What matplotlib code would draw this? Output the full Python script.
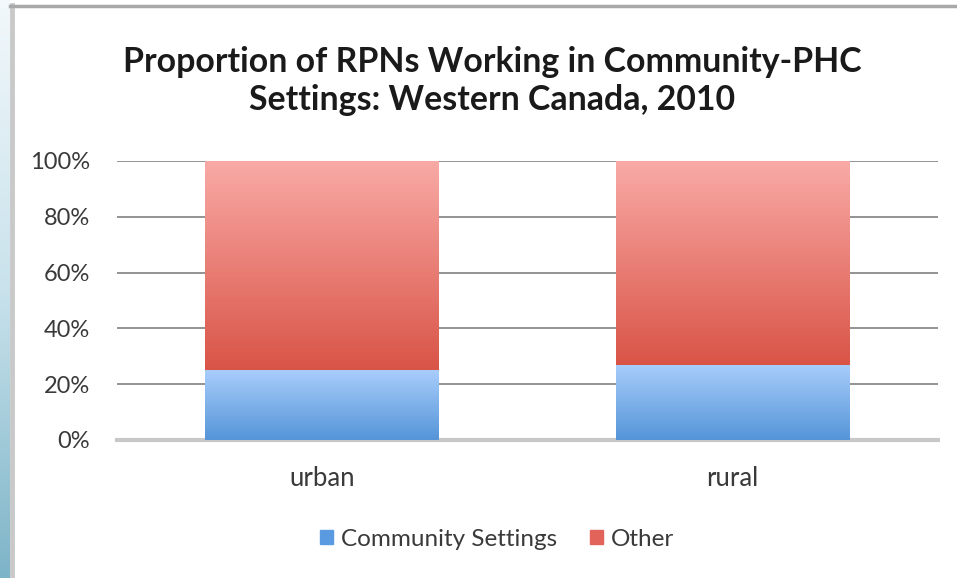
import numpy as np
import matplotlib
matplotlib.use("Agg")
import matplotlib.pyplot as plt
from matplotlib.colors import LinearSegmentedColormap
from matplotlib.patches import Rectangle

plt.rcParams['font.family'] = ['Lato', 'DejaVu Sans']

categories = ["urban", "rural"]
community = [25, 27]
other = [75, 73]
series_names = ["Community Settings", "Other"]
yticks = [0, 20, 40, 60, 80, 100]
ytick_labels = ["0%", "20%", "40%", "60%", "80%", "100%"]
title = "Proportion of RPNs Working in Community-PHC\nSettings: Western Canada, 2010"

W, H = 957, 578
fig = plt.figure(figsize=(W / 100, H / 100), dpi=100)
fig.patch.set_facecolor("white")

# left decorative strip (background slide)
bg = fig.add_axes([0, 0, 10 / W, 1])
grad = np.linspace(0, 1, 256).reshape(-1, 1)
strip_cmap = LinearSegmentedColormap.from_list("strip", ["#f2f8fb", "#c9e2ec", "#7db4c7"])
bg.imshow(grad, aspect="auto", cmap=strip_cmap, extent=[0, 1, 0, 1], origin="upper")
bg.set_axis_off()
# gray frame lines
fig.add_artist(plt.Line2D([11.5 / W, 11.5 / W], [0, 1 - 5 / H], transform=fig.transFigure,
                          color="#c9c9c9", lw=3.5))
fig.add_artist(plt.Line2D([10 / W, 1], [1 - 6 / H, 1 - 6 / H], transform=fig.transFigure,
                          color="#a9a9a9", lw=2.5))

ax = fig.add_axes([117 / W, 1 - 440 / H, (938 - 117) / W, (440 - 161) / H])
x = np.arange(len(categories))
width = 0.57

blue_cmap = LinearSegmentedColormap.from_list("b", ["#5595d8", "#a8cdfb"])
red_cmap = LinearSegmentedColormap.from_list("r", ["#d95447", "#f9aaa6"])

b1 = ax.bar(x, community, width, color="#5a9ae0", label=series_names[0], zorder=3)
b2 = ax.bar(x, other, width, bottom=community, color="#e2635a", label=series_names[1], zorder=3)

def gradient_fill(bars, cmap):
    for bar in bars:
        bx, by = bar.get_x(), bar.get_y()
        bw, bh = bar.get_width(), bar.get_height()
        im = ax.imshow(np.linspace(0, 1, 256).reshape(-1, 1), cmap=cmap, aspect="auto",
                       extent=[bx, bx + bw, by, by + bh], origin="lower", zorder=3.5)
        im.set_clip_path(bar)

gradient_fill(b1, blue_cmap)
gradient_fill(b2, red_cmap)

ax.set_xlim(-0.5, 1.5)
ax.set_ylim(0, 100)
ax.set_yticks(yticks)
ax.set_yticklabels(ytick_labels)
ax.set_xticks(x)
ax.set_xticklabels(categories)
ax.yaxis.grid(True, color="#8a8a8a", lw=1.3, zorder=0)
ax.set_axisbelow(True)
for s in ["top", "right", "left"]:
    ax.spines[s].set_visible(False)
ax.spines["bottom"].set_color("#c8c8c8")
ax.spines["bottom"].set_linewidth(3)
ax.spines["bottom"].set_zorder(2)
ax.tick_params(axis="both", length=0, colors="#3a3a3a")
ax.tick_params(axis="y", pad=19.5, labelsize=17)
ax.tick_params(axis="x", pad=19, labelsize=18.5)

fig.text(492 / W, 1 - 81 / H, title, ha="center", va="center", fontsize=24.4,
         fontweight="bold", color="#1a1a1a", linespacing=1.25)

handles = [Rectangle((0, 0), 1, 1, color="#5a9ae0"), Rectangle((0, 0), 1, 1, color="#e2635a")]
fig.legend(handles, series_names, loc="center", bbox_to_anchor=(497 / W, 1 - 539 / H),
           ncol=2, frameon=False, fontsize=17.5, handlelength=0.53, handleheight=0.53,
           handletextpad=0.33, columnspacing=1.36, labelcolor="#3a3a3a",
           borderpad=0, borderaxespad=0)

fig.savefig("out.png", dpi=100, facecolor="white")
